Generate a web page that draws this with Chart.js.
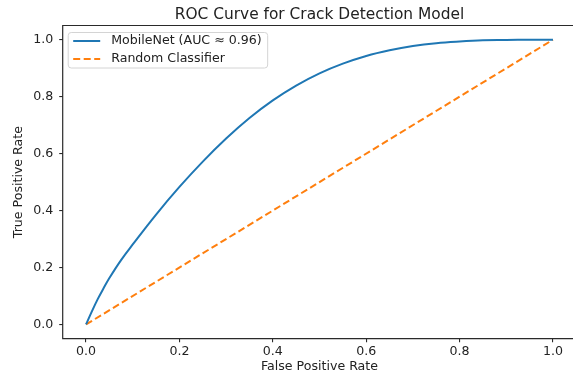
<!DOCTYPE html>
<html>
<head>
<meta charset="utf-8">
<script src="https://cdn.jsdelivr.net/npm/chart.js@4.4.1/dist/chart.umd.min.js"></script>
<style>
  html, body { margin: 0; padding: 0; background: #fff; overflow: hidden; width: 573px; height: 375px; }
  canvas { display: block; }
</style>
</head>
<body>
<canvas id="c" width="573" height="375"></canvas>
<script>
// ---- data ----
const chartTitle = "ROC Curve for Crack Detection Model";
const xAxisLabel = "False Positive Rate";
const yAxisLabel = "True Positive Rate";
const modelLabel = "MobileNet (AUC \u2248 0.96)";
const randomLabel = "Random Classifier";

const modelFpr = [0, 0.0125, 0.025, 0.0375, 0.05, 0.075, 0.10, 0.15, 0.20, 0.25, 0.30, 0.35, 0.40, 0.45, 0.50, 0.55, 0.60, 0.65, 0.70, 0.75, 0.80, 0.85, 0.90, 0.95, 1.00];
const modelTpr = [0, 0.046, 0.089, 0.127, 0.163, 0.226, 0.281, 0.386, 0.483, 0.572, 0.653, 0.725, 0.787, 0.839, 0.882, 0.916, 0.943, 0.963, 0.978, 0.988, 0.994, 0.998, 0.999, 1.0, 1.0];
const randomFpr = [0, 1];
const randomTpr = [0, 1];

const xTicks = [0.0, 0.2, 0.4, 0.6, 0.8, 1.0];
const yTicks = [0.0, 0.2, 0.4, 0.6, 0.8, 1.0];

// ---- styles ----
const FONT = "'DejaVu Sans', 'Liberation Sans', sans-serif";
const TXT = '#222222';
const FS = 12.6;
const AREA_RIGHT = 576.3; // axes extend slightly past the right edge of the picture
const toXY = (xs, ys) => xs.map((x, i) => ({ x: x, y: ys[i] }));

const frameAndExtras = {
  id: 'frameAndExtras',
  afterLayout(chart) {
    const xs = chart.scales.x;
    const a = chart.chartArea;
    a.right = AREA_RIGHT;
    a.width = a.right - a.left;
    xs.right = AREA_RIGHT;
    xs.width = xs.right - xs.left;
    xs.configure();
  },
  afterDatasetsDraw(chart) {
    const ctx = chart.ctx;
    const a = chart.chartArea;
    ctx.save();
    // axes spines: left, top, bottom (right spine lies beyond the picture edge)
    ctx.strokeStyle = '#2a2a2a';
    ctx.lineWidth = 1.2;
    ctx.beginPath();
    ctx.moveTo(a.right, a.top);
    ctx.lineTo(a.left, a.top);
    ctx.lineTo(a.left, a.bottom);
    ctx.lineTo(a.right, a.bottom);
    ctx.stroke();

    // legend (upper left, inside axes)
    ctx.font = FS + 'px ' + FONT;
    const ds = chart.data.datasets;
    let maxW = 0;
    ds.forEach(d => { maxW = Math.max(maxW, ctx.measureText(d.label).width); });
    const bx = a.left + 5.5, by = a.top + 7;
    const rowH = 18;
    const textX = bx + 43;
    const bw = textX - bx + maxW + 6;
    const bh = rowH * ds.length - 0.5;
    ctx.beginPath();
    if (ctx.roundRect) ctx.roundRect(bx, by, bw, bh, 3); else ctx.rect(bx, by, bw, bh);
    ctx.fillStyle = 'rgba(255,255,255,0.85)';
    ctx.fill();
    ctx.strokeStyle = '#d4d4d4';
    ctx.lineWidth = 1;
    ctx.stroke();
    ds.forEach((d, i) => {
      const y = by + 8.5 + i * rowH;
      ctx.beginPath();
      ctx.setLineDash(d.borderDash || []);
      ctx.strokeStyle = d.borderColor;
      ctx.lineWidth = d.borderWidth;
      ctx.moveTo(bx + 5, y);
      ctx.lineTo(bx + 32, y);
      ctx.stroke();
      ctx.setLineDash([]);
      ctx.fillStyle = TXT;
      ctx.textBaseline = 'middle';
      ctx.textAlign = 'left';
      ctx.fillText(d.label, textX, y);
    });

    // title centred over the axes
    ctx.font = '15.4px ' + FONT;
    ctx.fillStyle = TXT;
    ctx.textAlign = 'center';
    ctx.textBaseline = 'middle';
    ctx.fillText(chartTitle, (a.left + a.right) / 2, 15);
    ctx.restore();
  }
};

new Chart(document.getElementById('c'), {
  type: 'line',
  data: {
    datasets: [
      {
        label: modelLabel,
        data: toXY(modelFpr, modelTpr),
        borderColor: '#1f77b4',
        borderWidth: 2,
        pointRadius: 0,
        tension: 0.4,
        fill: false
      },
      {
        label: randomLabel,
        data: toXY(randomFpr, randomTpr),
        borderColor: '#ff7f0e',
        borderWidth: 2,
        borderDash: [7, 3.5],
        pointRadius: 0,
        fill: false
      }
    ]
  },
  options: {
    responsive: false,
    animation: false,
    devicePixelRatio: 1,
    layout: { padding: { top: 25.5, right: 0, left: 0, bottom: 0 } },
    plugins: {
      legend: { display: false },
      title: { display: false },
      tooltip: { enabled: false }
    },
    scales: {
      x: {
        type: 'linear',
        min: -0.05,
        max: 1.05,
        afterBuildTicks: s => { s.ticks = xTicks.map(v => ({ value: v })); },
        afterFit: s => { s.height = 36.3; },
        border: { display: false },
        grid: { drawOnChartArea: false, drawTicks: true, tickLength: 3.5, color: '#2a2a2a', lineWidth: 1.1 },
        ticks: {
          font: { family: FONT, size: FS },
          color: TXT,
          padding: 1.9,
          maxRotation: 0,
          callback: v => v.toFixed(1)
        },
        title: {
          display: true,
          text: xAxisLabel,
          font: { family: FONT, size: FS },
          color: TXT,
          padding: { top: 0, bottom: 0.5 }
        }
      },
      y: {
        type: 'linear',
        min: -0.05,
        max: 1.05,
        afterBuildTicks: s => { s.ticks = yTicks.map(v => ({ value: v })); },
        afterFit: s => { s.width = 62.7; },
        border: { display: false },
        grid: { drawOnChartArea: false, drawTicks: true, tickLength: 3.5, color: '#2a2a2a', lineWidth: 1.1 },
        ticks: {
          font: { family: FONT, size: FS },
          color: TXT,
          padding: 6,
          callback: v => v.toFixed(1)
        },
        title: {
          display: true,
          text: yAxisLabel,
          font: { family: FONT, size: FS },
          color: TXT,
          padding: { top: 11.5, bottom: 0 }
        }
      }
    }
  },
  plugins: [frameAndExtras]
});
</script>
</body>
</html>
